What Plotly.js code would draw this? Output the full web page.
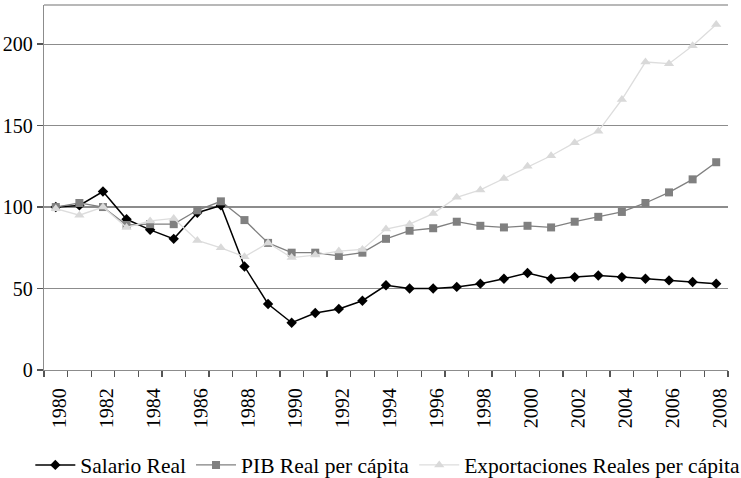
<!DOCTYPE html>
<html>
<head>
<meta charset="utf-8">
<script src="https://cdn.plot.ly/plotly-3.0.1.min.js"></script>
<style>html,body{margin:0;padding:0;background:#fff;}#chart{width:741px;height:478px;}</style>
</head>
<body>
<div id="chart"></div>
<script>
const years = [1980,1981,1982,1983,1984,1985,1986,1987,1988,1989,1990,1991,1992,1993,1994,1995,1996,1997,1998,1999,2000,2001,2002,2003,2004,2005,2006,2007,2008];
const salarioReal = [100,101,109.5,92.5,86,80.5,96.5,101,63.5,40.5,29,35,37.5,42.5,52,50,50,51,53,56,59.5,56,57,58,57,56,55,54,53];
const pibReal = [100,102.5,100,89,89.5,89.5,98,103.5,92,78,72,72,70,72,80.5,85.5,87,91,88.5,87.5,88.5,87.5,91,94,97,102.5,109,117,127.5];
const exportaciones = [99,95,100,87.5,91.5,93,79.5,75,69.5,78,69,70.5,73,74,86.5,89.5,96,106,110.5,117.5,125,131.5,139.5,146.5,166,189,188,199,212];
const seriesNames = ["Salario Real", "PIB Real per cápita", "Exportaciones Reales per cápita"];
const yearLabels = years.filter(function (y) { return y % 2 === 0; }).map(String);

const serif = 'Liberation Serif';

const traces = [
  {x: years, y: salarioReal, name: seriesNames[0], type: 'scatter', mode: 'lines+markers',
   line: {color: '#000000', width: 1.5}, marker: {symbol: 'diamond', size: 8, color: '#000000'}},
  {x: years, y: pibReal, name: seriesNames[1], type: 'scatter', mode: 'lines+markers',
   line: {color: '#808080', width: 1.3}, marker: {symbol: 'square', size: 8, color: '#808080'}},
  {x: years, y: exportaciones, name: seriesNames[2], type: 'scatter', mode: 'lines+markers',
   line: {color: '#dddddd', width: 1.3}, marker: {symbol: 'triangle-up', size: 9, color: '#d9d9d9'}},
  {x: years, y: salarioReal, xaxis: 'x2', type: 'scatter', mode: 'markers', showlegend: false,
   hoverinfo: 'skip', marker: {opacity: 0, size: 1}}
];

const layout = {
  width: 741, height: 478,
  margin: {l: 44, r: 13, t: 5, b: 108, autoexpand: false},
  paper_bgcolor: '#ffffff', plot_bgcolor: '#ffffff',
  font: {family: serif, size: 20, color: '#000000'},
  showlegend: true,
  legend: {orientation: 'h', x: -0.02, xanchor: 'left', y: -0.26, yanchor: 'middle', itemwidth: 40,
           font: {family: serif, size: 21.5, color: '#000000'}, traceorder: 'normal'},
  xaxis: {
    type: 'linear', range: [1979.5, 2008.5],
    tickmode: 'array', tickvals: yearLabels.map(Number), ticktext: yearLabels,
    tickangle: -89.9, ticks: '', showgrid: false, zeroline: false, automargin: false,
    ticklabelstandoff: 3,
    tickfont: {family: serif, size: 20, color: '#000000'},
    showline: true, linecolor: '#8c8c8c', linewidth: 1.3
  },
  xaxis2: {
    type: 'linear', range: [1979.5, 2008.5], overlaying: 'x', side: 'bottom',
    tick0: 1979.5, dtick: 1, ticks: 'outside', ticklen: 6, tickcolor: '#555555', tickwidth: 1.3,
    showticklabels: false, showgrid: false, zeroline: false, showline: false, automargin: false
  },
  yaxis: {
    range: [0, 224], tick0: 0, dtick: 50, ticks: 'outside', ticklen: 6, tickcolor: '#555555', tickwidth: 1.3,
    showgrid: true, gridcolor: '#8c8c8c', gridwidth: 1.2, zeroline: false, automargin: false,
    tickfont: {family: serif, size: 20, color: '#000000'},
    showline: true, linecolor: '#8c8c8c', linewidth: 1.3
  },
  shapes: [
    {type: 'line', xref: 'paper', yref: 'paper', x0: 0, x1: 1, y0: 1, y1: 1, line: {color: '#a0a0a0', width: 1.3}}
  ]
};

Plotly.newPlot('chart', traces, layout, {displayModeBar: false, staticPlot: true});
</script>
</body>
</html>
